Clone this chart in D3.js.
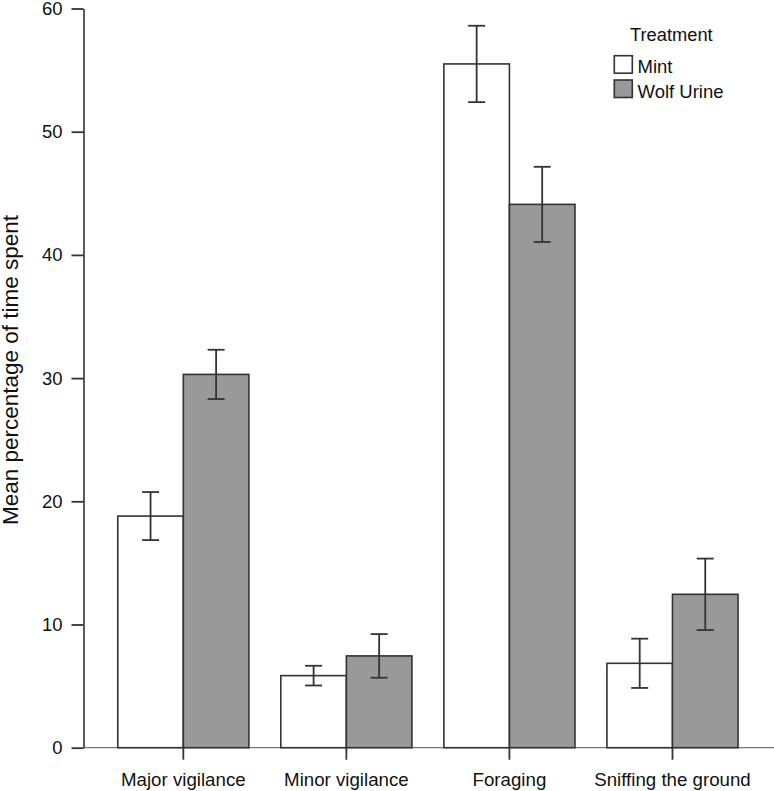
<!DOCTYPE html>
<html>
<head>
<meta charset="utf-8">
<script src="https://cdn.jsdelivr.net/npm/d3@7"></script>
<style>
  html, body { margin: 0; padding: 0; background: #fff; }
  svg { display: block; }
  text { font-family: "Liberation Sans", Arial, Helvetica, sans-serif; fill: #111; }
</style>
</head>
<body>
<svg id="chart" width="774" height="791"></svg>
<script>
const categories = ["Major vigilance", "Minor vigilance", "Foraging", "Sniffing the ground"];
const seriesNames = ["Mint", "Wolf Urine"];
const mintValues = [18.8, 5.85, 55.5, 6.85];
const mintErrors = [1.95, 0.8, 3.1, 2.0];
const wolfValues = [30.3, 7.45, 44.1, 12.45];
const wolfErrors = [2.0, 1.77, 3.05, 2.9];
const yTicks = [0, 10, 20, 30, 40, 50, 60];
const legendTitle = "Treatment";
const yTitle = "Mean percentage of time spent";

const fills = { "Mint": "#ffffff", "Wolf Urine": "#999999" };
const strokeCol = "#333333";

const svg = d3.select("#chart");
const W = 774, H = 791;

const y = d3.scaleLinear().domain([0, 60]).range([747.7, 8.5]);
const x = d3.scaleBand().domain(categories).range([101.8, 754]).paddingInner(0.196).paddingOuter(0.098);
const xs = d3.scaleBand().domain(seriesNames).range([0, x.bandwidth()]);

const rows = categories.map((c, i) => ({
  cat: c,
  bars: [
    { s: "Mint", v: mintValues[i], e: mintErrors[i] },
    { s: "Wolf Urine", v: wolfValues[i], e: wolfErrors[i] }
  ]
}));

// baseline
const axisX = 83.5;
svg.append("line")
  .attr("x1", axisX).attr("x2", W)
  .attr("y1", y(0)).attr("y2", y(0))
  .attr("stroke", "#777").attr("stroke-width", 1.2);

// bars
const g = svg.append("g");
const groups = g.selectAll("g.grp").data(rows).join("g")
  .attr("transform", d => `translate(${x(d.cat)},0)`);

groups.selectAll("rect").data(d => d.bars).join("rect")
  .attr("x", d => xs(d.s))
  .attr("width", xs.bandwidth())
  .attr("y", d => y(d.v))
  .attr("height", d => y(0) - y(d.v))
  .attr("fill", d => fills[d.s])
  .attr("stroke", strokeCol)
  .attr("stroke-width", 1.6);

// error bars
const capW = 17;
groups.selectAll("g.err").data(d => d.bars).join("g").attr("class", "err")
  .each(function(d) {
    const cx = xs(d.s) + xs.bandwidth() / 2;
    const e = d3.select(this);
    e.append("line").attr("x1", cx).attr("x2", cx)
      .attr("y1", y(d.v + d.e)).attr("y2", y(d.v - d.e))
      .attr("stroke", strokeCol).attr("stroke-width", 1.8);
    [d.v + d.e, d.v - d.e].forEach(val => {
      e.append("line").attr("x1", cx - capW / 2).attr("x2", cx + capW / 2)
        .attr("y1", y(val)).attr("y2", y(val))
        .attr("stroke", strokeCol).attr("stroke-width", 1.8);
    });
  });

// y axis
const yAxis = d3.axisLeft(y).tickValues(yTicks).tickSize(12).tickPadding(9).tickSizeOuter(0);
const ya = svg.append("g").attr("transform", `translate(${axisX},0)`).call(yAxis);
ya.select(".domain").attr("stroke", strokeCol).attr("stroke-width", 1.6);
ya.selectAll(".tick line").attr("stroke", strokeCol).attr("stroke-width", 1.8);
ya.selectAll(".tick text").attr("font-size", "18.5px").attr("fill", "#111")
  .attr("font-family", "'Liberation Sans', Arial, sans-serif");

// x axis ticks and labels
const xAxis = d3.axisBottom(x).tickSize(12).tickPadding(13).tickSizeOuter(0);
const xa = svg.append("g").attr("transform", `translate(0,${y(0)})`).call(xAxis);
xa.select(".domain").remove();
xa.selectAll(".tick line").attr("stroke", strokeCol).attr("stroke-width", 1.8);
xa.selectAll(".tick text").attr("font-size", "18.7px").attr("fill", "#111")
  .attr("font-family", "'Liberation Sans', Arial, sans-serif");

// y title
svg.append("text")
  .attr("transform", `translate(18,370) rotate(-90)`)
  .attr("text-anchor", "middle")
  .attr("font-size", "22.5px")
  .text(yTitle);

// legend
const lg = svg.append("g");
lg.append("text").attr("x", 630).attr("y", 40.5).attr("font-size", "18.3px").text(legendTitle);
seriesNames.forEach((s, i) => {
  const top = 55.7 + i * 24.3;
  lg.append("rect").attr("x", 614.3).attr("y", top).attr("width", 18).attr("height", 17.5)
    .attr("fill", fills[s]).attr("stroke", strokeCol).attr("stroke-width", 1.6);
  lg.append("text").attr("x", 637.5).attr("y", top + 17.5).attr("font-size", "18.5px").text(s);
});
</script>
</body>
</html>
